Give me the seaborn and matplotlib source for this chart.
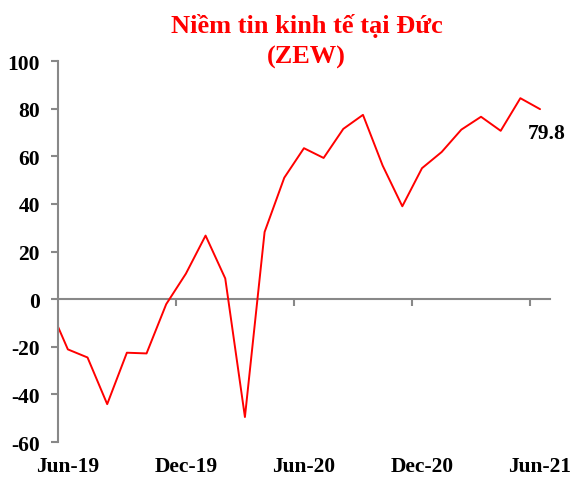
import matplotlib
matplotlib.use("Agg")
import matplotlib.pyplot as plt
import seaborn as sns
import pandas as pd

months = ["May-19", "Jun-19", "Jul-19", "Aug-19", "Sep-19", "Oct-19", "Nov-19", "Dec-19",
          "Jan-20", "Feb-20", "Mar-20", "Apr-20", "May-20", "Jun-20", "Jul-20", "Aug-20",
          "Sep-20", "Oct-20", "Nov-20", "Dec-20", "Jan-21", "Feb-21", "Mar-21", "Apr-21",
          "May-21", "Jun-21"]
zew = [-2.1, -21.1, -24.5, -44.1, -22.5, -22.8, -2.1, 10.7,
       26.7, 8.7, -49.5, 28.2, 51.0, 63.4, 59.3, 71.5,
       77.4, 56.1, 39.0, 55.0, 61.8, 71.2, 76.6, 70.7,
       84.4, 79.8]
tick_labels = ["Jun-19", "Dec-19", "Jun-20", "Dec-20", "Jun-21"]
y_ticks = [-60, -40, -20, 0, 20, 40, 60, 80, 100]
last_label = "79.8"

sns.set_style("white")
plt.rcParams['font.family'] = ['Liberation Serif', 'DejaVu Serif']

df = pd.DataFrame({"idx": list(range(-1, len(months) - 1)), "month": months, "value": zew})

fig = plt.figure(figsize=(5.71, 4.81), dpi=100)
ax = fig.add_axes([0.1016, 0.079, 0.963 - 0.1016, 0.871 - 0.079])

sns.lineplot(data=df, x="idx", y="value", ax=ax, color="#FF0000", linewidth=1.4)

ax.set_xlim(-0.5, len(months) - 1.5)
ax.set_ylim(-60, 100)
ax.set_xlabel("")
ax.set_ylabel("")

gray = "#888888"
for s in ["top", "right", "bottom"]:
    ax.spines[s].set_visible(False)
ax.spines["left"].set_color(gray)
ax.spines["left"].set_linewidth(1.5)

ax.set_yticks(y_ticks)
ax.set_yticklabels([str(v) for v in y_ticks], fontsize=15.5, fontweight="bold", color="black")
ax.tick_params(axis="y", direction="out", length=5, width=1.5, color=gray, pad=8, left=True)

label_pos = [months.index(l) - 1 for l in tick_labels]
ax.set_xticks(label_pos)
ax.set_xticklabels(tick_labels, fontsize=15.5, fontweight="bold", color="black")
ax.tick_params(axis="x", length=0, pad=10)

# zero-crossing category axis
zero_frac = (0 - (-60)) / (100 - (-60))
sec = ax.secondary_xaxis(zero_frac)
sec.set_xticks([p - 0.5 for p in label_pos[1:]])
sec.set_xticklabels([])
sec.tick_params(axis="x", direction="out", length=5, width=1.5, color=gray)
sec.spines["bottom"].set_color(gray)
sec.spines["bottom"].set_linewidth(1.5)
for s in ["top", "left", "right"]:
    sec.spines[s].set_visible(False)

last_x = len(months) - 2
ax.annotate(last_label, xy=(last_x, zew[-1]), xytext=(4.5, -17), textcoords="offset points",
            ha="center", va="center", fontsize=15.5, fontweight="bold", color="black")

fig.text(0.537, 0.914, "Niềm tin kinh tế tại Đức\n(ZEW)", ha="center", va="center",
         fontsize=19, fontweight="bold", color="#FF0000", linespacing=1.45)

fig.savefig("out.png", dpi=100)
